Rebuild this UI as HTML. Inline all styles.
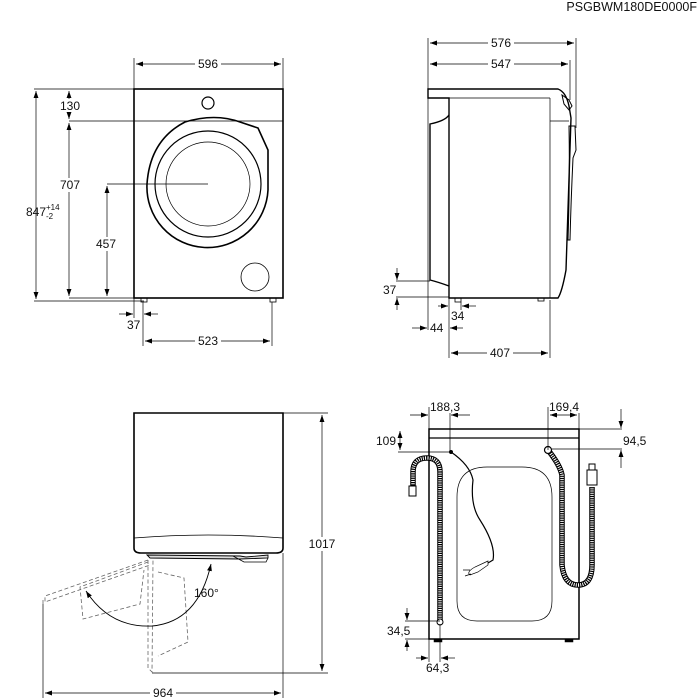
<!DOCTYPE html>
<html><head><style>
html,body{margin:0;padding:0;background:#fff;}
svg{display:block;font-family:"Liberation Sans",sans-serif;}
text{font-size:12px;fill:#111;}
</style></head><body>
<svg width="700" height="700" viewBox="0 0 700 700" xmlns="http://www.w3.org/2000/svg">
<defs>
<marker id="a" viewBox="0 0 10 10" refX="10" refY="5" markerWidth="7" markerHeight="7" orient="auto-start-reverse" markerUnits="userSpaceOnUse"><path d="M0,1.5L10,5L0,8.5z" fill="#000"/></marker>
</defs>
<text x="697" y="11" text-anchor="end" style="font-size:12.5px">PSGBWM180DE0000F</text>

<g fill="none" stroke="#000">
<!-- FRONT VIEW -->
<rect x="134" y="89" width="149" height="209" stroke-width="1.6"/>
<line x1="134" y1="121" x2="283" y2="121" stroke-width="0.8"/>
<circle cx="208" cy="103" r="6" stroke-width="1.2"/>
<path d="M147,184 A60,60 0 0 0 268,190 L268,150 L258,128 L240,122 Q215,113 185,122 Q150,140 147,184z" stroke-width="1.6"/>
<circle cx="208" cy="184" r="53" stroke-width="1.2"/>
<circle cx="208" cy="184" r="42" stroke-width="0.7"/>
<circle cx="255" cy="277" r="14" stroke-width="0.8"/>
<rect x="141" y="298" width="6" height="4" stroke-width="0.8"/>
<rect x="270" y="298" width="6" height="4" stroke-width="0.8"/>
<g stroke-width="0.7">
<line x1="134" y1="58" x2="134" y2="89"/><line x1="283" y1="58" x2="283" y2="89"/>
<line x1="136" y1="64" x2="281" y2="64" marker-start="url(#a)" marker-end="url(#a)"/>
<line x1="34" y1="89" x2="134" y2="89"/><line x1="34" y1="301" x2="144" y2="301"/>
<line x1="36" y1="91" x2="36" y2="299" marker-start="url(#a)" marker-end="url(#a)"/>
<line x1="69" y1="121" x2="134" y2="121"/>
<line x1="69" y1="91" x2="69" y2="119" marker-start="url(#a)" marker-end="url(#a)"/>
<line x1="69" y1="123" x2="69" y2="296" marker-start="url(#a)" marker-end="url(#a)"/>
<line x1="107" y1="184" x2="208" y2="184"/>
<line x1="107" y1="186" x2="107" y2="296" marker-start="url(#a)" marker-end="url(#a)"/>
<line x1="69" y1="298" x2="134" y2="298"/>
<line x1="134" y1="298" x2="134" y2="318"/><line x1="143" y1="302" x2="143" y2="346"/>
<line x1="272" y1="302" x2="272" y2="346"/>
<line x1="119" y1="314" x2="133" y2="314" marker-end="url(#a)"/>
<line x1="158" y1="314" x2="144" y2="314" marker-end="url(#a)"/>
<line x1="145" y1="341" x2="270" y2="341" marker-start="url(#a)" marker-end="url(#a)"/>
</g>

<!-- SIDE VIEW -->
<path d="M428,89 L558,89 Q566,92 569,106 L571,118 Q568,200 566,270 Q562,292 558,298 L449,298 L449,98 L428,98z" stroke-width="1.4"/>
<line x1="449" y1="98" x2="550" y2="98" stroke-width="0.7"/>
<line x1="550" y1="98" x2="550" y2="298" stroke-width="0.7"/>
<line x1="550" y1="121" x2="569" y2="121" stroke-width="0.7"/>
<path d="M562,95 L569,100 L572,106 L569,110 L564,104z" stroke-width="1"/>
<path d="M569,126 L575,126 L576,150 L573,158 Q571,200 570,240 L568,240 Q570,180 569,126z" stroke-width="1"/>
<path d="M449,115 Q445,121 430,124 L430,280 Q438,282 449,286" stroke-width="1.4"/>
<rect x="455" y="298" width="6" height="4" stroke-width="0.8"/>
<rect x="538" y="298" width="6" height="3" stroke-width="0.8"/>
<g stroke-width="0.7">
<line x1="428" y1="38" x2="428" y2="330"/>
<line x1="576" y1="38" x2="576" y2="128"/><line x1="570" y1="60" x2="570" y2="100"/>
<line x1="430" y1="43" x2="574" y2="43" marker-start="url(#a)" marker-end="url(#a)"/>
<line x1="430" y1="64" x2="568" y2="64" marker-start="url(#a)" marker-end="url(#a)"/>
<line x1="396" y1="281" x2="430" y2="281"/><line x1="396" y1="297" x2="449" y2="297"/>
<line x1="397" y1="268" x2="397" y2="280" marker-end="url(#a)"/>
<line x1="397" y1="310" x2="397" y2="298" marker-end="url(#a)"/>
<line x1="449" y1="298" x2="449" y2="358"/><line x1="550" y1="300" x2="550" y2="358"/>
<line x1="461" y1="302" x2="461" y2="310"/>
<line x1="438" y1="306" x2="448" y2="306" marker-end="url(#a)"/>
<line x1="476" y1="306" x2="462" y2="306" marker-end="url(#a)"/>
<line x1="412" y1="328" x2="427" y2="328" marker-end="url(#a)"/>
<line x1="463" y1="328" x2="450" y2="328" marker-end="url(#a)"/>
<line x1="451" y1="353" x2="548" y2="353" marker-start="url(#a)" marker-end="url(#a)"/>
</g>

<!-- TOP VIEW -->
<path d="M134,413 L283,413 L283,548 Q283,553 276,553 L141,553 Q134,553 134,548z" stroke-width="1.6"/>
<path d="M134,538 Q208,532 283,538" stroke-width="0.8"/>
<path d="M147,555 L240,556 L246,557 L268,555 L268,558 L240,559 L150,558z" stroke-width="0.9" fill="#ddd"/>
<path d="M233,556 L244,562 L266,562 L268,558" stroke-width="0.8"/>
<g stroke-width="0.8" stroke-dasharray="4,2.5" stroke="#666">
<path d="M148,560 L45,596 L45,602 L150,565"/>
<path d="M148,562 L80,587 L83,619 L140,604 L144,570"/>
<path d="M148,560 L148,668 L152,672 L153,560"/>
<path d="M158,572 L184,578 L188,642 L158,656"/>
<line x1="43" y1="600" x2="43" y2="606"/>
</g>
<path d="M86,591 Q110,628 152,626 Q198,622 211,564" stroke-width="0.9" marker-start="url(#a)" marker-end="url(#a)"/>
<g stroke-width="0.7">
<line x1="283" y1="413" x2="328" y2="413"/><line x1="152" y1="673" x2="328" y2="673"/>
<line x1="322" y1="415" x2="322" y2="671" marker-start="url(#a)" marker-end="url(#a)"/>
<line x1="43" y1="604" x2="43" y2="698"/><line x1="283" y1="553" x2="283" y2="698"/>
<line x1="45" y1="693" x2="281" y2="693" marker-start="url(#a)" marker-end="url(#a)"/>
</g>

<!-- BACK VIEW -->
<rect x="429" y="429" width="150" height="210" stroke-width="1.5"/>
<line x1="429" y1="438" x2="579" y2="438" stroke-width="1.2"/>
<path d="M487,467 L522,467 Q552,467 552,497 L552,601 Q552,621 532,621 L477,621 Q457,621 457,601 L457,497 Q457,467 487,467z" stroke-width="0.7"/>
<rect x="434" y="639" width="8" height="3" fill="#000" stroke-width="0.5"/>
<rect x="565" y="639" width="8" height="3" fill="#000" stroke-width="0.5"/>
<path d="M440,621 L440,472 Q440,458 427,458 Q413,458 413,472 L413,486" stroke-width="5.5"/>
<path d="M440,621 L440,472 Q440,458 427,458 Q413,458 413,472 L413,486" stroke-width="3.5" stroke="#fff" stroke-dasharray="1,1.2"/>
<rect x="409" y="486" width="7" height="10" fill="#fff" stroke-width="1"/>
<circle cx="440" cy="622" r="3" fill="#fff" stroke-width="1"/>
<path d="M548,450 Q560,465 562,475 L562,565 Q564,585 578,585 Q592,585 592,565 L592,487" stroke-width="5.5"/>
<path d="M548,450 Q560,465 562,475 L562,565 Q564,585 578,585 Q592,585 592,565 L592,487" stroke-width="3.5" stroke="#fff" stroke-dasharray="1,1.2"/>
<circle cx="548" cy="450" r="3.5" fill="#fff" stroke-width="1.2"/>
<rect x="587" y="470" width="10" height="15" fill="#fff" stroke-width="1"/>
<rect x="589" y="464" width="6" height="6" fill="#fff" stroke-width="1"/>
<path d="M451,452 Q470,465 473,480 Q470,505 480,520 Q496,545 493,560 L488,563" stroke-width="1.2"/>
<circle cx="451" cy="452" r="1.5" fill="#000"/>
<path d="M488,561 L475,567 Q466,572 470,575 L478,572 L488,565z" stroke-width="0.7"/>
<path d="M470,570 L463,570 M471,574 L465,576" stroke-width="0.7"/>
<g stroke-width="0.7">
<line x1="429" y1="407" x2="429" y2="429"/><line x1="450" y1="407" x2="450" y2="452"/>
<line x1="410" y1="415" x2="428" y2="415" marker-end="url(#a)"/>
<line x1="470" y1="415" x2="451" y2="415" marker-end="url(#a)"/>
<line x1="548" y1="407" x2="548" y2="450"/><line x1="579" y1="407" x2="579" y2="429"/>
<line x1="550" y1="415" x2="577" y2="415" marker-start="url(#a)" marker-end="url(#a)"/>
<line x1="579" y1="429" x2="622" y2="429"/><line x1="552" y1="449" x2="622" y2="449"/>
<line x1="621" y1="409" x2="621" y2="428" marker-end="url(#a)"/>
<line x1="621" y1="468" x2="621" y2="450" marker-end="url(#a)"/>
<line x1="398" y1="452" x2="450" y2="452"/>
<line x1="400" y1="431" x2="400" y2="450" marker-start="url(#a)" marker-end="url(#a)"/>
<line x1="405" y1="621" x2="440" y2="621"/><line x1="405" y1="639" x2="429" y2="639"/>
<line x1="407" y1="608" x2="407" y2="620" marker-end="url(#a)"/>
<line x1="407" y1="651" x2="407" y2="640" marker-end="url(#a)"/>
<line x1="429" y1="639" x2="429" y2="662"/><line x1="440" y1="624" x2="440" y2="662"/>
<line x1="416" y1="658" x2="428" y2="658" marker-end="url(#a)"/>
<line x1="455" y1="658" x2="441" y2="658" marker-end="url(#a)"/>
</g>
</g>

<g>
<rect x="195" y="57" width="26" height="14" fill="#fff"/><text x="208" y="68" text-anchor="middle">596</text>
<text x="26" y="216">847</text><text x="46" y="210" style="font-size:8px">+14</text><text x="46" y="219" style="font-size:8px">-2</text>
<rect x="60" y="99" width="22" height="13" fill="#fff"/><text x="60" y="110">130</text>
<rect x="58" y="178" width="24" height="14" fill="#fff"/><text x="60" y="189">707</text>
<rect x="95" y="237" width="24" height="14" fill="#fff"/><text x="96" y="248">457</text>
<text x="127" y="329">37</text>
<rect x="195" y="334" width="26" height="14" fill="#fff"/><text x="208" y="345" text-anchor="middle">523</text>
<rect x="488" y="36" width="26" height="14" fill="#fff"/><text x="501" y="47" text-anchor="middle">576</text>
<rect x="488" y="57" width="26" height="14" fill="#fff"/><text x="501" y="68" text-anchor="middle">547</text>
<text x="383" y="294">37</text>
<text x="451" y="320">34</text>
<text x="430" y="332">44</text>
<rect x="487" y="346" width="26" height="14" fill="#fff"/><text x="500" y="357" text-anchor="middle">407</text>
<rect x="307" y="537" width="30" height="14" fill="#fff"/><text x="322" y="548" text-anchor="middle">1017</text>
<rect x="150" y="686" width="26" height="14" fill="#fff"/><text x="163" y="697" text-anchor="middle">964</text>
<text x="194" y="597">160°</text>
<rect x="430" y="400" width="32" height="13" fill="#fff"/><text x="430" y="411">188,3</text>
<rect x="549" y="400" width="32" height="13" fill="#fff"/><text x="549" y="411">169,4</text>
<text x="623" y="445">94,5</text>
<text x="376" y="445">109</text>
<text x="387" y="635">34,5</text>
<text x="426" y="672">64,3</text>
</g>
</svg>
</body></html>
